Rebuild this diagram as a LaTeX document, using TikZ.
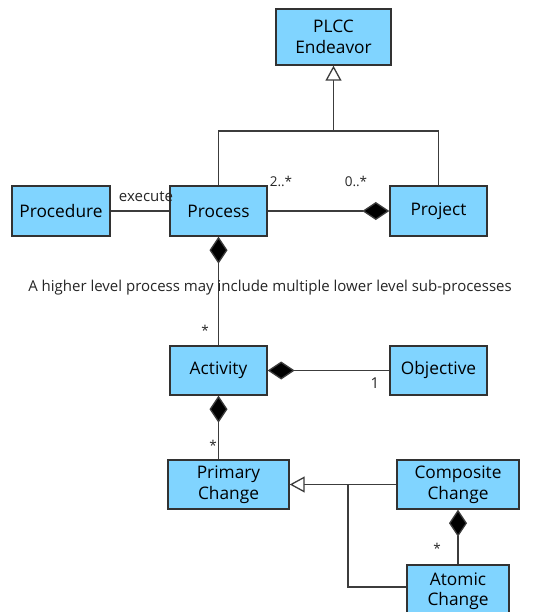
\documentclass[tikz,border=0pt]{standalone}
\usepackage{fontspec}
\setmainfont{Open Sans}
\usetikzlibrary{arrows.meta,positioning,calc}
\definecolor{boxfill}{RGB}{128,212,255}
\definecolor{boxline}{RGB}{50,50,50}
\definecolor{conline}{RGB}{60,60,60}
\begin{document}
\begin{tikzpicture}[x=1pt,y=-1pt,
  cls/.style={draw=boxline,line width=1.4pt,fill=boxfill,align=center,inner sep=0pt,
    font=\fontsize{17.3}{20.5}\selectfont},
  con/.style={draw=conline,line width=1.3pt},
  gen/.style={con,-{Triangle[open,length=15pt,width=16pt,fill=white]}},
  comp/.style={con,{Diamond[length=27pt,width=18pt,fill=black]}-},
  lab/.style={font=\fontsize{15}{17}\selectfont,text=black!85,inner sep=0pt},
  mult/.style={font=\fontsize{13.5}{15}\selectfont,text=black!85,inner sep=0pt}]
\useasboundingbox (0,0) rectangle (546,612);
\fill[white] (0,0) rectangle (546,612);
% classes
\node[cls,minimum width=115pt,minimum height=56pt] (plcc) at (333.5,37) {PLCC\\Endeavor};
\node[cls,minimum width=98pt,minimum height=50pt] (procedure) at (61,211) {Procedure};
\node[cls,minimum width=97pt,minimum height=50pt] (process) at (218.5,211) {Process};
\node[cls,minimum width=97pt,minimum height=50pt] (project) at (438.5,211) {Project};
\node[cls,minimum width=97pt,minimum height=49pt] (activity) at (218.5,370.5) {Activity};
\node[cls,minimum width=97pt,minimum height=49pt] (objective) at (438.5,370.5) {Objective};
\node[cls,minimum width=121pt,minimum height=49pt] (primary) at (228.5,484.5) {Primary\\Change};
\node[cls,minimum width=122pt,minimum height=49pt] (composite) at (458,484.5) {Composite\\Change};
\node[cls,minimum width=102pt,minimum height=52pt] (atomic) at (458,591) {Atomic\\Change};
% generalization to PLCC Endeavor
\coordinate (j1) at (333.5,131);
\draw[con] (process.north) |- (j1) -| (project.north);
\draw[gen] (j1) -- (plcc.south);
% execute
\draw[con] (procedure.east) -- (process.west);
\node[lab] (exec) at (146,197) {execute};
% process - project
\draw[con,-{Diamond[length=27pt,width=18pt,fill=black]}] (process.east) -- (project.west);
\node[mult] (m2) at (281,181) {2..*};
\node[mult] (m0) at (356,181) {0..*};
% process - activity
\draw[comp] (process.south) -- (activity.north);
\node[lab] (note) at (270,288) {A higher level process may include multiple lower level sub-processes};
\node[mult] (ma) at (205,330) {*};
% activity - objective
\draw[comp] (activity.east) -- (objective.west);
\node[lab] (mo) at (375,383) {1};
% activity - primary
\draw[comp] (activity.south) -- (activity.south |- primary.north);
\node[mult] (mp) at (213,445) {*};
% generalization to Primary Change
\coordinate (j2) at (348,484.5);
\coordinate (j3) at (348,587);
\draw[gen] (composite.west) -- (primary.east);
\draw[con] (j2) -- (j3) -- (j3 -| atomic.west);
% composite - atomic
\draw[comp] (composite.south) -- (atomic.north);
\node[mult] (mc) at (437,548) {*};
\end{tikzpicture}
\end{document}
